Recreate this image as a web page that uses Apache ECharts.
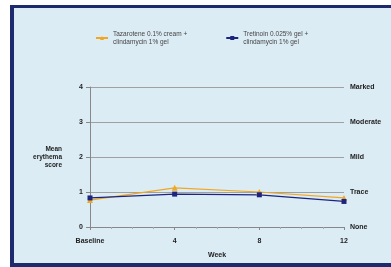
<!DOCTYPE html>
<html>
<head>
<meta charset="utf-8">
<script src="https://cdn.jsdelivr.net/npm/echarts@6/dist/echarts.min.js"></script>
<style>
  html,body{margin:0;padding:0;background:#fff;}
  #chart{width:391px;height:267px;}
</style>
</head>
<body>
<div id="chart"></div>
<script>
  // weeks on x axis, Baseline = 0
  var weeks = [0, 4, 8, 12];
  var weekLabels = {0: 'Baseline', 4: '4', 8: '8', 12: '12'};
  var severityLabels = ['None', 'Trace', 'Mild', 'Moderate', 'Marked'];
  var seriesNames = ['Tazarotene 0.1% cream +\nclindamycin 1% gel', 'Tretinoin 0.025% gel +\nclindamycin 1% gel'];
  var tazarotene = [0.77, 1.12, 1.0, 0.83];
  var tretinoin = [0.83, 0.94, 0.92, 0.73];

  var myChart = echarts.init(document.getElementById('chart'));
  var font = 'Liberation Sans';
  var option = {
    backgroundColor: '#fff',
    animation: false,
    graphic: [
      {type: 'rect', shape: {x: 10, y: 5, width: 400, height: 270},
        style: {fill: '#1e2a6e'}, z: -10},
      {type: 'rect', shape: {x: 14, y: 8, width: 400, height: 255},
        style: {fill: '#dcecf5'}, z: -9}
    ],
    legend: {
      top: 25,
      left: 90,
      itemGap: 38,
      itemWidth: 12,
      itemHeight: 5,
      textStyle: {fontFamily: font, fontSize: 6.5, color: '#444', lineHeight: 8},
      data: seriesNames
    },
    grid: {left: 90, right: 47, top: 87, bottom: 40},
    xAxis: {
      type: 'value',
      min: 0, max: 12, interval: 4,
      name: 'Week',
      nameLocation: 'middle',
      nameGap: 25,
      nameTextStyle: {fontFamily: font, fontSize: 7, fontWeight: 'bold', color: '#222'},
      axisLine: {lineStyle: {color: '#888', width: 1}},
      axisTick: {show: true, length: 3, lineStyle: {color: '#888'}},
      minorTick: {show: true, splitNumber: 4, length: 2, lineStyle: {color: '#aaa'}},
      splitLine: {show: false},
      axisLabel: {
        fontFamily: font, fontSize: 7, fontWeight: 'bold', color: '#222', margin: 11,
        formatter: function (v) { return weekLabels[v]; }
      }
    },
    yAxis: [
      {
        type: 'value',
        min: 0, max: 4, interval: 1,
        name: 'Mean\nerythema\nscore',
        nameLocation: 'middle',
        nameRotate: 0,
        nameGap: 28,
        nameTextStyle: {fontFamily: font, fontSize: 6.5, fontWeight: 'bold', color: '#222', lineHeight: 8},
        axisLine: {show: true, lineStyle: {color: '#888'}},
        axisTick: {show: true, length: 4, lineStyle: {color: '#888'}},
        axisLabel: {fontFamily: font, fontSize: 7, fontWeight: 'bold', color: '#222', margin: 7},
        splitLine: {show: true, lineStyle: {color: '#a0a0a0', width: 1}}
      },
      {
        type: 'value',
        position: 'right',
        min: 0, max: 4, interval: 1,
        axisLine: {show: false},
        axisTick: {show: false},
        splitLine: {show: false},
        axisLabel: {
          fontFamily: font, fontSize: 7, fontWeight: 'bold', color: '#222', margin: 6,
          formatter: function (v) { return severityLabels[v]; }
        }
      }
    ],
    series: [
      {
        name: seriesNames[0],
        type: 'line',
        symbol: 'triangle',
        symbolSize: 6,
        itemStyle: {color: '#f0a820'},
        lineStyle: {color: '#f0a820', width: 1.2},
        data: weeks.map(function (w, i) { return [w, tazarotene[i]]; })
      },
      {
        name: seriesNames[1],
        type: 'line',
        symbol: 'rect',
        symbolSize: 5,
        itemStyle: {color: '#1c2480'},
        lineStyle: {color: '#1c2480', width: 1.2},
        data: weeks.map(function (w, i) { return [w, tretinoin[i]]; })
      }
    ]
  };
  myChart.setOption(option);
</script>
</body>
</html>
